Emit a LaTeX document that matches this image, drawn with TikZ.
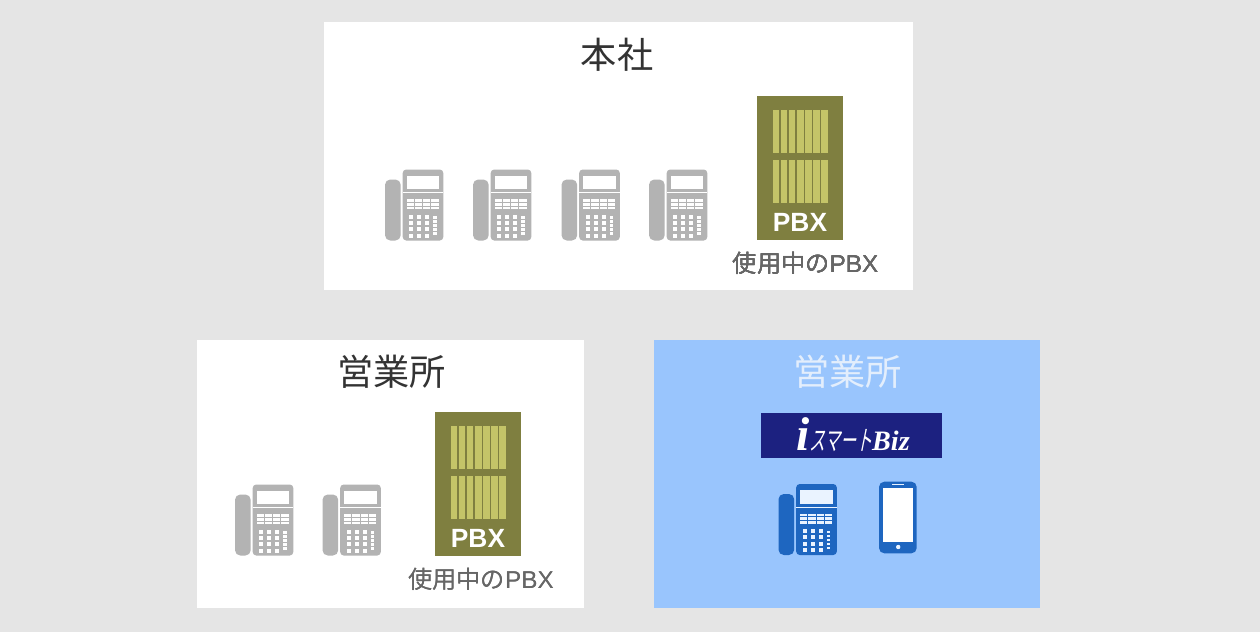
\documentclass[tikz,border=0pt]{standalone}
\usepackage{fontspec}
\setmainfont{Noto Sans CJK JP}
\newfontfamily\latinsans{Liberation Sans}[BoldFont={Liberation Sans Bold}]
\newfontfamily\logoserif{Liberation Serif}[BoldItalicFont={Liberation Serif Bold Italic}]
\newfontfamily\logokana{Noto Sans CJK JP}[FakeStretch=0.58,FakeSlant=0.2]
\definecolor{pagegray}{HTML}{E5E5E5}
\definecolor{panelblue}{HTML}{99C5FD}
\definecolor{logonavy}{HTML}{1C2180}
\definecolor{phonegray}{HTML}{B3B3B3}
\definecolor{phoneblue}{HTML}{1E66C0}
\definecolor{keypale}{HTML}{EAF3FF}
\definecolor{pbxolive}{HTML}{7F7F40}
\definecolor{pbxstrip}{HTML}{C4C468}
\definecolor{titledark}{HTML}{333333}
\definecolor{notegray}{HTML}{666666}
\definecolor{titlepale}{HTML}{E3EEFC}
\tikzset{
  titlelabel/.style={font=\fontsize{20.6}{24}\selectfont, text=titledark, inner sep=0pt},
  notelabel/.style={font=\fontsize{13.8}{16}\selectfont, text=notegray, inner sep=0pt},
  pbxlabel/.style={font=\latinsans\bfseries\fontsize{15}{16}\selectfont, text=white, inner sep=0pt},
}

% desk phone: top-left corner x, y, colour, colour of the keys
\newcommand{\deskphone}[4]{
  \begin{scope}[shift={(#1,#2)}]
    \fill[#3, rounded corners=3pt] (0,10) rectangle (15.7,71);
    \fill[#3, rounded corners=2pt] (17.7,0) rectangle (58.3,71);
    \fill[#4] (21.7,6.2) rectangle (54.3,19.5);
    \fill[#4] (17.7,22.6) rectangle (58.3,23.8);
    % soft keys
    \foreach \col in {0,...,3}
      \foreach \row in {0,...,2}
        \fill[#4] (21.7+8.2*\col,29.5+3.8*\row) rectangle +(7.2,2.8);
    % dial pad
    \foreach \col in {26,34,42.3}
      \foreach \row in {47.2,53.2,59.8,66.2}
        \fill[#4] (\col-2,\row-2) rectangle +(4,4);
    \foreach \row in {48,52,56,60,64}
      \fill[#4] (48.2,\row-1.2) rectangle +(3.6,2.4);
  \end{scope}
}

% pbx cabinet: top-left corner x, y, name
\newcommand{\pbxunit}[3]{
  \begin{scope}[shift={(#1,#2)}]
    \fill[pbxolive] (0,0) rectangle (86.6,144.3);
    \foreach \row in {14.3,64.3}
      \foreach \col in {0,...,6}
        \fill[pbxstrip] (16+8.07*\col,\row) rectangle +(6.6,42.7);
    \node[pbxlabel] (#3) at (43.3,126.5) {PBX};
  \end{scope}
}

\begin{document}
\begin{tikzpicture}[x=0.02cm,y=-0.02cm]
    \useasboundingbox (0,0) rectangle (1260,632);
    \fill[pagegray] (0,0) rectangle (1260,632);

    % Panels
    \fill[white] (324,22) rectangle (913,290);
    \fill[white] (197,340) rectangle (584,608);
    \fill[panelblue] (654,340) rectangle (1040,608);

    % Titles
    \node[titlelabel] (headoffice) at (617,55) {本社};
    \node[titlelabel] (branchold) at (391.5,372) {営業所};
    \node[titlelabel, text=titlepale] (branchnew) at (847.5,372) {営業所};

    % Head office
    \foreach \px in {385,473,561.5,649}
      \deskphone{\px}{169.5}{phonegray}{white}
    \pbxunit{756.7}{95.7}{pbxhead}
    \node[notelabel] (notehead) at (805.5,263) {使用中の{\latinsans PBX}};

    % Branch with its own pbx
    \foreach \px in {235,322.5}
      \deskphone{\px}{484.5}{phonegray}{white}
    \pbxunit{434.7}{411.7}{pbxbranch}
    \node[notelabel] (notebranch) at (481,579) {使用中の{\latinsans PBX}};

    % Branch on the service
    \fill[logonavy] (761,413) rectangle (942,458);
    \node[text=white, inner sep=0pt] (logo) at (853,435)
      {{\logoserif\bfseries\itshape\fontsize{27}{27}\selectfont i}{\logokana\fontsize{15.5}{16}\selectfont スマート}{\logoserif\bfseries\itshape\fontsize{16}{16}\selectfont Biz}};
    \deskphone{778.5}{484}{phoneblue}{keypale}

    % Smartphone
    \fill[phoneblue, rounded corners=3pt] (879,481.7) rectangle (916.7,553.3);
    \fill[white] (883.3,488.3) rectangle (913.3,541.7);
    \fill[keypale] (892,484.2) rectangle (904,485.4);
    \fill[keypale] (898.2,547) circle (2.2);
\end{tikzpicture}
\end{document}
